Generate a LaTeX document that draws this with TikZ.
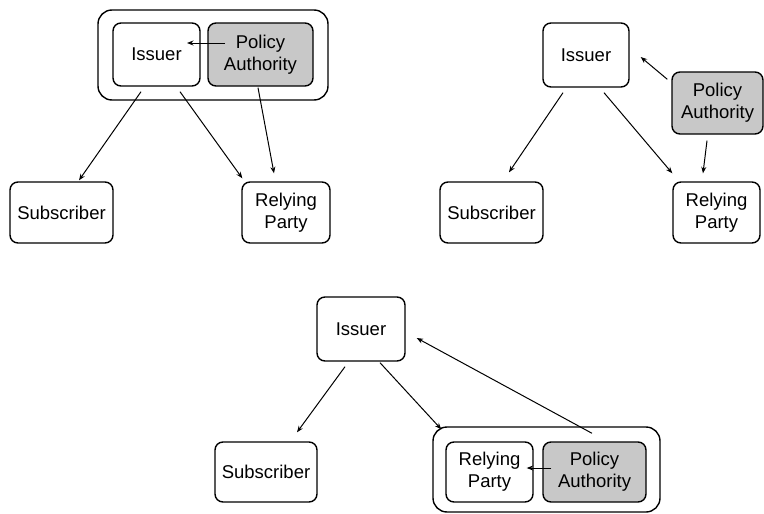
\documentclass[tikz,border=0pt]{standalone}
\usepackage{fontspec}
\setmainfont{Liberation Sans}
\usetikzlibrary{calc,arrows.meta}
\definecolor{paGray}{RGB}{200,200,200}
\begin{document}
\begin{tikzpicture}[x=1pt,y=-1pt,
  every node/.style={font=\fontsize{18.5}{22}\selectfont},
  box/.style={draw, line width=1.4pt, rounded corners=8pt, inner sep=0pt, align=center},
  holder/.style={draw, line width=1.4pt, rounded corners=14pt, inner sep=0pt},
  shaded/.style={box, fill=paGray},
  link/.style={line width=1pt, -{Stealth[length=6.5pt,width=5pt]}}]
\useasboundingbox (0,0) rectangle (764,514);

% ---- Issuer and Policy Authority combined ----
\node[holder, minimum width=230pt, minimum height=90pt] (tlOuter) at (213,55) {};
\node[box, minimum width=87pt, minimum height=63pt] (tlIss) at (156.5,54.5) {Issuer};
\node[shaded, minimum width=105pt, minimum height=63pt] (tlPA) at (260.5,54.5) {Policy\\Authority};
\node[box, minimum width=103pt, minimum height=61pt] (tlSub) at (61.5,212.5) {Subscriber};
\node[box, minimum width=88pt, minimum height=61pt] (tlRP) at (286,212.5) {Relying\\Party};

\draw[link] ($(tlPA.center)+(-35.5,-11.5)$) -- ($(tlIss.center)+(30.5,-11.5)$);
\draw[link] ($(tlIss.south)+(-15.5,5)$) -- ($(tlSub.north)+(17.5,-1)$);
\draw[link] ($(tlIss.south)+(23.5,5)$) -- ($(tlRP.north west)+(1,-3)$);
\draw[link] ($(tlPA.south)+(-2.5,1)$) -- ($(tlRP.north)+(-12,-8)$);

% ---- Independent Policy Authority ----
\node[box, minimum width=86pt, minimum height=64pt] (trIss) at (586,55) {Issuer};
\node[shaded, minimum width=91pt, minimum height=62pt] (trPA) at (717.5,103) {Policy\\Authority};
\node[box, minimum width=103pt, minimum height=61pt] (trSub) at (491.5,212.5) {Subscriber};
\node[box, minimum width=87pt, minimum height=61pt] (trRP) at (716.5,212.5) {Relying\\Party};

\draw[link] ($(trIss.south)+(-23,5)$) -- ($(trSub.north)+(17.5,-9)$);
\draw[link] ($(trIss.south)+(18,5)$) -- ($(trRP.north west)+(0,-8)$);
\draw[link] ($(trPA.north west)+(-4,8)$) -- ($(trIss.east)+(11,2)$);
\draw[link] ($(trPA.south)+(-10.5,6)$) -- ($(trRP.north)+(-13.5,-8)$);

% ---- Relying Party and Policy Authority combined ----
\node[box, minimum width=88pt, minimum height=64pt] (bIss) at (361,329) {Issuer};
\node[box, minimum width=102pt, minimum height=60pt] (bSub) at (266,472) {Subscriber};
\node[holder, minimum width=227pt, minimum height=85pt] (bOuter) at (546.5,469.5) {};
\node[box, minimum width=87pt, minimum height=60pt] (bRP) at (489.5,472) {Relying\\Party};
\node[shaded, minimum width=103pt, minimum height=60pt] (bPA) at (594.5,472) {Policy\\Authority};

\draw[link] ($(bIss.south)+(-16,5)$) -- ($(bSub.north)+(31,-9)$);
\draw[link] ($(bIss.south)+(19,1)$) -- ($(bOuter.north west)+(9,3)$);
\draw[link] ($(bOuter.north)+(45.5,7)$) -- ($(bIss.east)+(11,9)$);
\draw[link] ($(bPA.west)+(9,-4)$) -- ($(bRP.east)+(-7,-4)$);
\end{tikzpicture}
\end{document}
